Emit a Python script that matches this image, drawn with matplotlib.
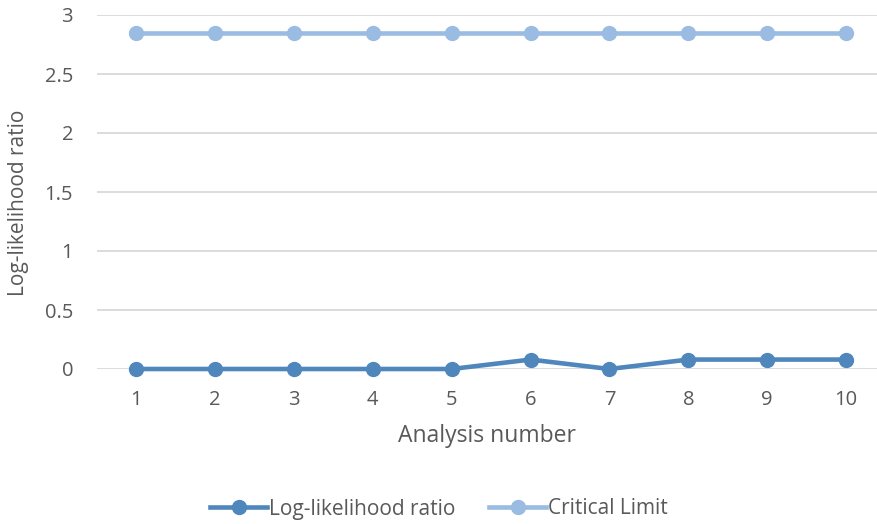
import matplotlib
matplotlib.use("Agg")
import matplotlib.pyplot as plt
from matplotlib.lines import Line2D

analysis = [1, 2, 3, 4, 5, 6, 7, 8, 9, 10]
llr = [0, 0, 0, 0, 0, 0.08, 0, 0.08, 0.08, 0.08]
critical = [2.85] * 10

dark_blue = "#4F87BD"
light_blue = "#9ABBE2"
text_col = "#595959"

plt.rcParams["font.family"] = ["Open Sans", "DejaVu Sans"]

fig = plt.figure(figsize=(8.78, 5.24), dpi=100)
ax = fig.add_axes([96.7 / 878, 1 - 369 / 524, (877.6 - 96.7) / 878, (369 - 15) / 524])

ax.plot(analysis, llr, color=dark_blue, lw=3.3, marker="o", ms=10, zorder=3,
        label="Log-likelihood ratio", solid_capstyle="round")
ax.plot(analysis, critical, color=light_blue, lw=3.3, marker="o", ms=10, zorder=3,
        label="Critical Limit", solid_capstyle="round")

ax.set_xlim(0.5, 10.4)
ax.set_ylim(0, 3)
ax.set_xticks(analysis)
ax.set_yticks([0, 0.5, 1, 1.5, 2, 2.5, 3])
ax.set_yticklabels(["0", "0.5", "1", "1.5", "2", "2.5", "3"])
ax.grid(axis="y", color="#D9D9D9", lw=1.3)
ax.set_axisbelow(True)
for s in ax.spines.values():
    s.set_visible(False)
ax.tick_params(length=0, colors=text_col, labelsize=14.5)
ax.tick_params(axis="y", pad=17)
ax.tick_params(axis="x", pad=15)
for ln in ax.lines:
    ln.set_clip_on(False)

ax.set_xlabel("Analysis number", fontsize=16.5, color=text_col, labelpad=10)
ax.set_ylabel("Log-likelihood ratio", fontsize=15, color=text_col)
ax.yaxis.set_label_coords(-0.087, 0.47)

handles = [
    Line2D([], [], color=dark_blue, lw=3.3, marker="o", ms=10),
    Line2D([], [], color=light_blue, lw=3.3, marker="o", ms=10),
]
fig.legend(handles, ["Log-likelihood ratio", "Critical Limit"], loc="center",
           bbox_to_anchor=(0.5, 1 - 509 / 524), ncol=2, frameon=False,
           fontsize=15, labelcolor=text_col, handlelength=2.75, handletextpad=0.1,
           columnspacing=1.6)

fig.savefig("out.png", dpi=100)
